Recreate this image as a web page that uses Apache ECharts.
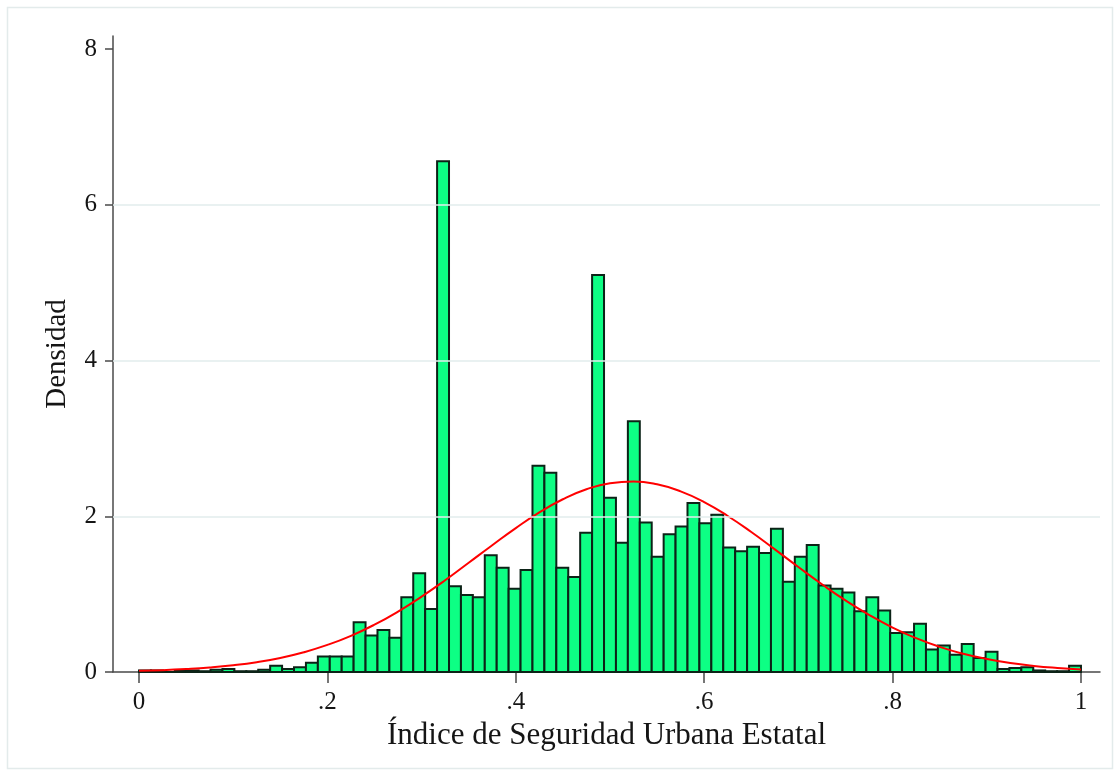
<!DOCTYPE html>
<html>
<head>
<meta charset="utf-8">
<script src="https://cdn.jsdelivr.net/npm/echarts@6/dist/echarts.min.js"></script>
<style>
  html, body { margin: 0; padding: 0; background: #ffffff; }
  #chart { width: 1120px; height: 776px; }
</style>
</head>
<body>
<div id="chart"></div>
<script>
// ---- Data ----
const binStart = 0;
const binWidth = 1 / 79;
const densities = [
  0.02, 0.02, 0.00, 0.02, 0.02, 0.01, 0.03, 0.04, 0.01, 0.01,
  0.03, 0.08, 0.04, 0.06, 0.12, 0.20, 0.20, 0.20, 0.64, 0.47,
  0.54, 0.44, 0.96, 1.27, 0.81, 6.56, 1.10, 0.99, 0.96, 1.50,
  1.34, 1.07, 1.31, 2.65, 2.56, 1.34, 1.22, 1.79, 5.10, 2.24,
  1.66, 3.22, 1.92, 1.48, 1.77, 1.87, 2.17, 1.91, 2.02, 1.60,
  1.55, 1.61, 1.53, 1.84, 1.16, 1.48, 1.63, 1.11, 1.07, 1.02,
  0.78, 0.96, 0.79, 0.50, 0.51, 0.62, 0.29, 0.34, 0.22, 0.36,
  0.18, 0.26, 0.04, 0.05, 0.06, 0.02, 0.01, 0.01, 0.08
];
const curveX = [
  0, 0.025, 0.05, 0.075, 0.1, 0.125, 0.15, 0.175, 0.2, 0.225,
  0.25, 0.275, 0.3, 0.325, 0.35, 0.375, 0.4, 0.425, 0.45, 0.475,
  0.5, 0.525, 0.55, 0.575, 0.6, 0.625, 0.65, 0.675, 0.7, 0.725,
  0.75, 0.775, 0.8, 0.825, 0.85, 0.875, 0.9, 0.925, 0.95, 0.975, 1
];
const curveY = [
  0.015, 0.023, 0.037, 0.057, 0.086, 0.126, 0.181, 0.254, 0.348, 0.465,
  0.608, 0.776, 0.968, 1.178, 1.403, 1.629, 1.849, 2.050, 2.219, 2.347,
  2.425, 2.447, 2.411, 2.321, 2.183, 2.004, 1.798, 1.575, 1.348, 1.127,
  0.920, 0.734, 0.571, 0.435, 0.323, 0.234, 0.167, 0.115, 0.078, 0.052, 0.033
];
const xTickValues = [0, 0.2, 0.4, 0.6, 0.8, 1];
const xTickLabels = ['0', '.2', '.4', '.6', '.8', '1'];
const yTickValues = [0, 2, 4, 6, 8];
const yTickLabels = ['0', '2', '4', '6', '8'];
const gridValues = [2, 4, 6];
const xTitle = 'Índice de Seguridad Urbana Estatal';
const yTitle = 'Densidad';

// ---- Chart ----
const FONT = '"Liberation Serif", "DejaVu Serif", serif';
const TEXT = '#151515';
const AXIS = '#4a4a4a';

function labelFor(values, labels) {
  return function (v) {
    for (let i = 0; i < values.length; i++) {
      if (Math.abs(values[i] - v) < 1e-6) return labels[i];
    }
    return '';
  };
}

const chart = echarts.init(document.getElementById('chart'), null, { renderer: 'canvas' });

const barData = densities.map((d, i) => [binStart + i * binWidth, d, binStart + (i + 1) * binWidth]);

chart.setOption({
  animation: false,
  backgroundColor: '#ffffff',
  graphic: [{
    type: 'rect',
    shape: { x: 7.5, y: 7.5, width: 1105, height: 761 },
    style: { fill: 'none', stroke: '#e3ebeb', lineWidth: 1.5 },
    z: -10, silent: true
  }],
  grid: { left: 113, right: 20, top: 36, bottom: 104 },
  xAxis: {
    type: 'value',
    min: -0.0276,
    max: 1.0202,
    axisLine: { show: true, onZero: false, lineStyle: { color: AXIS, width: 1.5 } },
    axisTick: { show: true, customValues: xTickValues, length: 11, lineStyle: { color: AXIS, width: 1.5 } },
    axisLabel: {
      customValues: xTickValues,
      formatter: labelFor(xTickValues, xTickLabels),
      fontFamily: FONT, fontSize: 25, color: TEXT, margin: 18
    },
    splitLine: { show: false },
    name: xTitle,
    nameLocation: 'middle',
    nameGap: 46,
    nameTextStyle: { fontFamily: FONT, fontSize: 31, color: TEXT }
  },
  yAxis: {
    type: 'value',
    min: 0,
    max: 8.17,
    axisLine: { show: true, onZero: false, lineStyle: { color: AXIS, width: 1.5 } },
    axisTick: { show: true, customValues: yTickValues, length: 8, lineStyle: { color: AXIS, width: 1.5 } },
    axisLabel: {
      customValues: yTickValues,
      formatter: labelFor(yTickValues, yTickLabels),
      fontFamily: FONT, fontSize: 25, color: TEXT, margin: 16
    },
    splitLine: { show: false },
    name: yTitle,
    nameLocation: 'middle',
    nameGap: 41,
    nameRotate: 90,
    nameTextStyle: { fontFamily: FONT, fontSize: 29, color: TEXT }
  },
  series: [
    {
      type: 'line',
      data: [],
      silent: true,
      z: 0,
      markLine: {
        silent: true,
        symbol: ['none', 'none'],
        label: { show: false },
        lineStyle: { color: '#e2ecec', width: 1.5, type: 'solid' },
        data: gridValues.map(v => ({ yAxis: v }))
      }
    },
    {
      type: 'custom',
      z: 2,
      encode: { x: [0, 2], y: 1 },
      data: barData,
      renderItem: function (params, api) {
        const top = api.coord([api.value(0), api.value(1)]);
        const bot = api.coord([api.value(2), 0]);
        return {
          type: 'rect',
          shape: { x: top[0], y: top[1], width: bot[0] - top[0], height: bot[1] - top[1] },
          style: { fill: '#0dff84', stroke: '#0c2317', lineWidth: 2 }
        };
      }
    },
    {
      type: 'line',
      z: 3,
      data: curveX.map((x, i) => [x, curveY[i]]),
      smooth: true,
      symbol: 'none',
      lineStyle: { color: '#ff0000', width: 2 }
    }
  ]
});
</script>
</body>
</html>
